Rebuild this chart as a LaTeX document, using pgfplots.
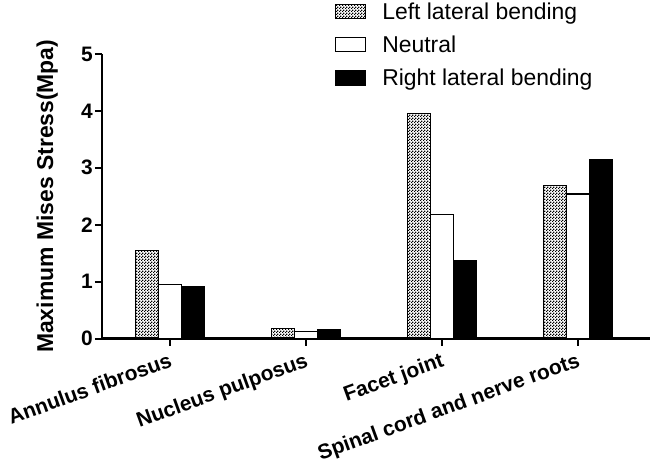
\documentclass[border=0pt]{standalone}
\usepackage{fontspec}
\setmainfont{Liberation Sans}
\usepackage{pgfplots}
\pgfplotsset{compat=1.18}
\usepackage{pgfplotstable}
\usetikzlibrary{patterns}
\pgfdeclarepatternformonly{checker}{\pgfpointorigin}{\pgfpoint{3bp}{3bp}}{\pgfpoint{3bp}{3bp}}{%
  \pgfpathrectangle{\pgfpointorigin}{\pgfpoint{1.5bp}{1.5bp}}%
  \pgfpathrectangle{\pgfpoint{1.5bp}{1.5bp}}{\pgfpoint{1.5bp}{1.5bp}}%
  \pgfusepath{fill}}
\pgfplotstableread{
x L N R
0 1.55 0.95 0.92
1 0.17 0.13 0.15
2 3.96 2.18 1.37
3 2.69 2.54 3.15
}\datatable
\begin{document}
\begin{tikzpicture}
\useasboundingbox (-102bp,-126.5bp) rectangle (548bp,338.5bp);
\begin{axis}[
  scale only axis,
  width=548bp, height=284.5bp,
  at={(0,0)}, anchor=south west,
  ybar=0pt, bar width=23bp,
  xmin=-0.5, xmax=3.53,
  ymin=0, ymax=5,
  axis x line=bottom, axis y line=left,
  axis line style={line width=2.2bp, -},
  every tick/.style={line width=2bp, black},
  tick align=outside,
  major tick length=7bp,
  xtick={0,1,2,3},
  xticklabels={Annulus fibrosus, Nucleus pulposus, Facet joint, Spinal cord and nerve roots},
  ytick={0,1,2,3,4,5},
  yticklabels={0,1,2,3,4,5},
  xticklabel style={rotate=20, anchor=north east, inner sep=1bp, xshift=-3bp, yshift=-4bp, font=\fontsize{21}{23}\selectfont\bfseries},
  yticklabel style={inner sep=2bp, font=\fontsize{21}{23}\selectfont\bfseries},
  ylabel={Maximum Mises Stress(Mpa)},
  ylabel style={at={(axis description cs:-0.1,0.5)}, anchor=center, rotate=0, font=\fontsize{23}{25}\selectfont\bfseries},
  legend image code/.code={\draw[#1, line width=1.2bp] (0bp,-7bp) rectangle (30bp,7bp); \path (44bp,0bp);},
  legend style={draw=none, fill=none, at={(0.425,1.188)}, anchor=north west,
    font=\fontsize{23}{25}\selectfont, row sep=11bp, inner sep=0pt},
  legend cell align=left,
]
\addplot[draw=black, line width=1.2bp, fill=white, pattern=checker, pattern color=black] table[x=x,y=L] {\datatable};
\addplot[draw=black, line width=1.2bp, fill=white] table[x=x,y=N] {\datatable};
\addplot[draw=black, line width=1.2bp, fill=black] table[x=x,y=R] {\datatable};
\legend{Left lateral bending, Neutral, Right lateral bending}
\end{axis}
\end{tikzpicture}
\end{document}
